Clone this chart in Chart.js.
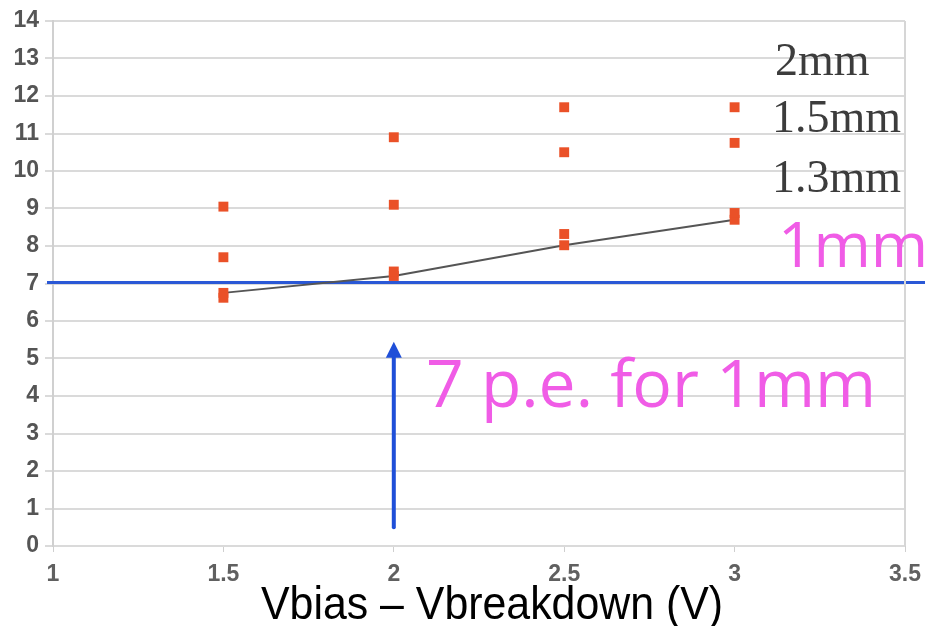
<!DOCTYPE html>
<html>
<head>
<meta charset="utf-8">
<script src="https://cdn.jsdelivr.net/npm/chart.js@4/dist/chart.umd.min.js"></script>
<style>
  html, body { margin: 0; padding: 0; background: #fff; }
  #wrap { width: 925px; height: 626px; }
</style>
</head>
<body>
<div id="wrap"><canvas id="peChart" width="925" height="626"></canvas></div>
<script>
// bias over breakdown (V)
var vOver = [1.5, 2, 2.5, 3];

// photoelectrons per fibre diameter
var pe2mm  = [9.05, 10.9, 11.7, 11.7];
var pe15mm = [7.7, 9.1, 10.5, 10.75];
var pe13mm = [6.62, 7.32, 8.32, 8.88];
var pe1mm  = [6.75, 7.2, 8.02, 8.7];

var xTicks = [1, 1.5, 2, 2.5, 3, 3.5];
var yTicks = [0, 1, 2, 3, 4, 5, 6, 7, 8, 9, 10, 11, 12, 13, 14];

// threshold line and arrow at 2 V
var peLevel = 7.03;
var arrowX = 2;
var arrowFrom = 0.5;
var arrowTo = 5.45;

function pts(ys){
  return vOver.map(function(x, i){ return {x: x, y: ys[i]}; });
}

var markerStyle = {
  showLine: false,
  pointStyle: 'rect',
  pointRadius: 7,
  backgroundColor: '#ea5128',
  borderColor: '#ea5128',
  borderWidth: 0
};

// blue 7 p.e. line goes under the markers
var levelLine = {
  id: 'levelLine',
  beforeDatasetsDraw: function(chart){
    var ctx = chart.ctx;
    var y = chart.scales.y.getPixelForValue(peLevel);
    ctx.save();
    ctx.strokeStyle = '#2a58d6';
    ctx.lineWidth = 3;
    ctx.beginPath();
    ctx.moveTo(47, y);
    ctx.lineTo(chart.width, y);
    ctx.stroke();
    ctx.restore();
  }
};

var notes = {
  id: 'notes',
  afterDraw: function(chart){
    var ctx = chart.ctx;
    var xs = chart.scales.x, ys = chart.scales.y;
    var area = chart.chartArea;
    ctx.save();

    // right border of plot
    ctx.strokeStyle = '#d6d6d6';
    ctx.lineWidth = 2;
    ctx.beginPath();
    ctx.moveTo(area.right, area.top);
    ctx.lineTo(area.right, area.bottom);
    ctx.stroke();

    // arrow
    var ax = xs.getPixelForValue(arrowX);
    var y0 = ys.getPixelForValue(arrowFrom);
    var y1 = ys.getPixelForValue(arrowTo);
    ctx.strokeStyle = '#1f4fd8';
    ctx.fillStyle = '#1f4fd8';
    ctx.lineWidth = 4;
    ctx.lineCap = 'round';
    ctx.beginPath();
    ctx.moveTo(ax, y0);
    ctx.lineTo(ax, y1 + 10);
    ctx.stroke();
    ctx.beginPath();
    ctx.moveTo(ax, y1);
    ctx.lineTo(ax - 8, y1 + 16);
    ctx.lineTo(ax + 8, y1 + 16);
    ctx.closePath();
    ctx.fill();

    // size labels
    ctx.fillStyle = '#3c3c3c';
    ctx.font = '46px "Liberation Serif", serif';
    ctx.textAlign = 'left';
    ctx.textBaseline = 'alphabetic';
    ctx.fillText('2mm', 775, 75);
    ctx.fillText('1.5mm', 772, 132);
    ctx.fillText('1.3mm', 772, 192);

    ctx.fillStyle = '#f05ce6';
    ctx.font = '62px "Open Sans", sans-serif';
    ctx.fillText('1mm', 778, 267);
    ctx.font = '66px "Open Sans", sans-serif';
    ctx.fillText('7 p.e. for 1mm', 426, 407);

    // axis title
    ctx.fillStyle = '#000';
    ctx.font = '46px "Liberation Sans Narrow", "Arial Narrow", sans-serif';
    ctx.textAlign = 'center';
    ctx.fillText('Vbias \u2013 Vbreakdown (V)', 492, 619, 462);
    ctx.restore();
  }
};

var tickFont = {family: '"Liberation Sans", Arial, sans-serif', size: 23, weight: 'bold'};

var ctx = document.getElementById('peChart').getContext('2d');
var peChart = new Chart(ctx, {
  type: 'scatter',
  data: {
    datasets: [
      Object.assign({label: '2mm', data: pts(pe2mm)}, markerStyle),
      Object.assign({label: '1.5mm', data: pts(pe15mm)}, markerStyle),
      Object.assign({label: '1.3mm', data: pts(pe13mm)}, markerStyle),
      Object.assign({label: '1mm', data: pts(pe1mm)}, markerStyle, {
        showLine: true,
        borderColor: '#555555',
        borderWidth: 2,
        pointBorderWidth: 0,
        pointBackgroundColor: '#ea5128'
      })
    ]
  },
  options: {
    responsive: false,
    animation: false,
    layout: {padding: {top: 21, right: 20, left: 0, bottom: 0}},
    plugins: {legend: {display: false}, tooltip: {enabled: false}},
    scales: {
      x: {
        type: 'linear',
        min: 1,
        max: 3.5,
        afterBuildTicks: function(scale){
          scale.ticks = xTicks.map(function(v){ return {value: v}; });
        },
        afterFit: function(scale){
          scale.height = 80;
          scale.paddingLeft = 0;
          scale.paddingRight = 0;
        },
        grid: {drawOnChartArea: false, tickLength: 6, color: '#cfcfcf', lineWidth: 1},
        border: {display: false},
        ticks: {
          padding: 9,
          color: '#606060',
          font: tickFont,
          callback: function(v){ return String(v); }
        }
      },
      y: {
        min: 0,
        max: 14,
        afterBuildTicks: function(scale){
          scale.ticks = yTicks.map(function(v){ return {value: v}; });
        },
        afterFit: function(scale){
          scale.width = 53;
          scale.paddingTop = 0;
          scale.paddingBottom = 0;
        },
        grid: {color: '#dadada', lineWidth: 2, tickLength: 8},
        border: {display: true, color: '#d0d0d0', width: 2},
        ticks: {
          padding: 6,
          color: '#555555',
          font: tickFont
        }
      }
    }
  },
  plugins: [levelLine, notes]
});
</script>
</body>
</html>
